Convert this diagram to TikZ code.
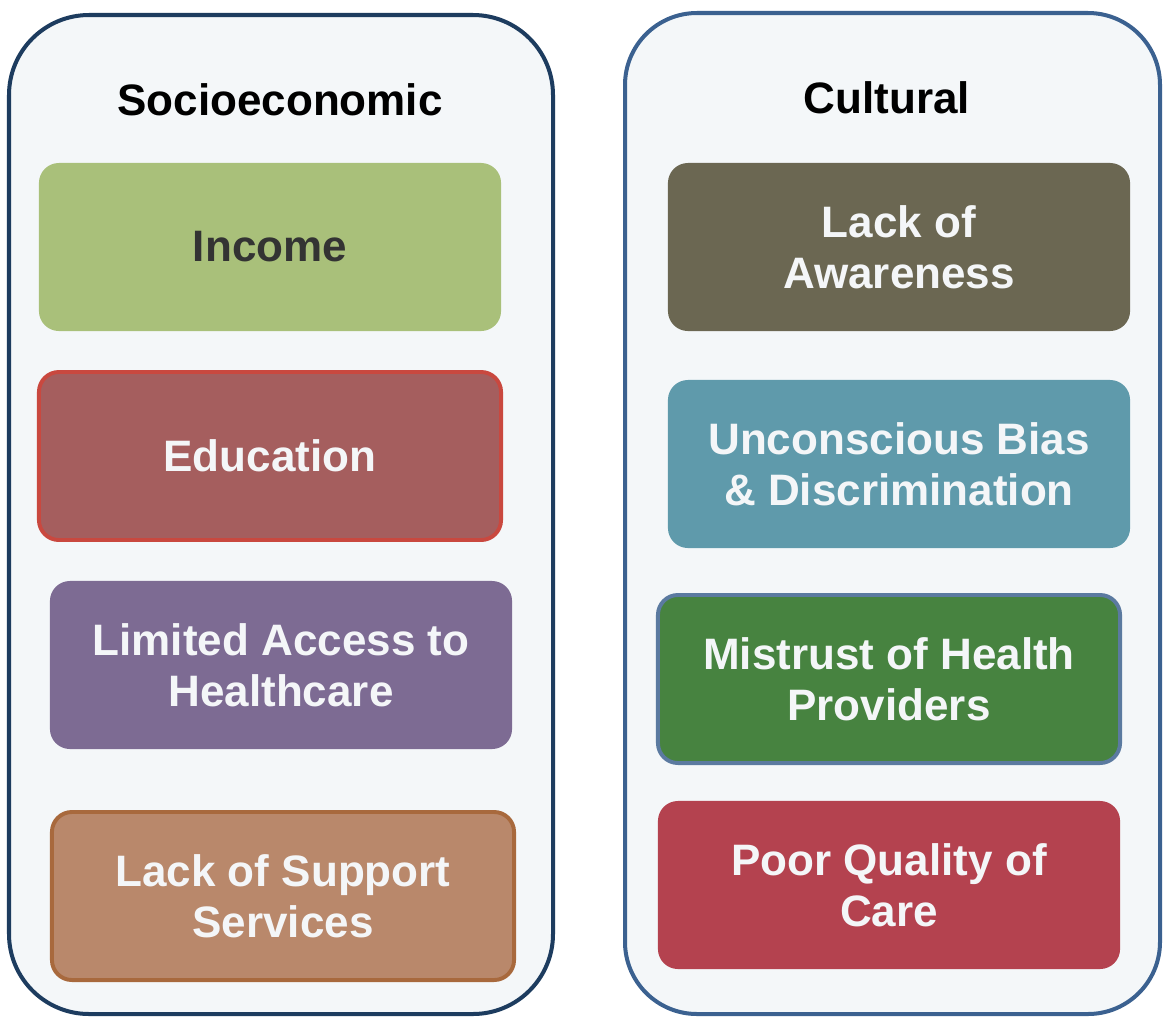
\documentclass[tikz,border=0pt]{standalone}
\usepackage{fontspec}
\setmainfont{Liberation Sans}
\usetikzlibrary{positioning}

\definecolor{panelfill}{HTML}{F4F7F9}
\definecolor{navyleft}{HTML}{1D3C5F}
\definecolor{blueright}{HTML}{3B6190}
\definecolor{incomegreen}{HTML}{A9C07A}
\definecolor{textgray}{HTML}{333333}
\definecolor{eduredfill}{HTML}{A55E5E}
\definecolor{eduredline}{HTML}{C9483F}
\definecolor{accesspurple}{HTML}{7D6B93}
\definecolor{supportfill}{HTML}{B9886B}
\definecolor{supportline}{HTML}{A8693D}
\definecolor{awareolive}{HTML}{6B6752}
\definecolor{biasteal}{HTML}{5F9AAB}
\definecolor{mistrustgreen}{HTML}{478340}
\definecolor{mistrustline}{HTML}{5B7AA0}
\definecolor{qualityred}{HTML}{B4424F}
\definecolor{offwhite}{HTML}{F4F6F8}

\tikzset{
  panel/.style={line width=2.85pt, fill=panelfill},
  factor/.style={rectangle, rounded corners=0.5cm, minimum width=11.55cm,
    minimum height=4.2cm, inner sep=0pt, align=center, text=offwhite,
    font=\fontsize{31.3}{36.3}\selectfont\bfseries},
  heading/.style={anchor=base, text=black,
    font=\fontsize{31.3}{36.3}\selectfont\bfseries}
}

\begin{document}
\begin{tikzpicture}[x=0.025cm, y=-0.025cm]
			%%%%% START %%%%%
			\useasboundingbox[fill=white] (0, 0) rectangle (1163, 1019);

			\draw[panel, draw=navyleft, rounded corners=2cm] (9, 15) rectangle (553, 1014);
			\draw[panel, draw=blueright, rounded corners=1.8cm] (625, 13) rectangle (1160, 1014);

			\node[heading] (socio) at (280, 115) {Socioeconomic};
			\node[heading] (cultural) at (887, 113) {Cultural};

			\node[factor, fill=incomegreen, text=textgray] (income) at (270, 247) {Income};
			\node[factor, fill=eduredfill, draw=eduredline, line width=2.8pt] (education) at (270, 456) {Education};
			\node[factor, fill=accesspurple] (access) at (281, 665) {Limited Access to\\Healthcare};
			\node[factor, fill=supportfill, draw=supportline, line width=2.8pt] (support) at (283, 896) {Lack of Support\\Services};

			\node[factor, fill=awareolive] (awareness) at (899, 247) {Lack of\\Awareness};
			\node[factor, fill=biasteal] (bias) at (899, 464) {Unconscious Bias\\\& Discrimination};
			\node[factor, fill=mistrustgreen, draw=mistrustline, line width=2.8pt] (mistrust) at (889, 679) {Mistrust of Health\\Providers};
			\node[factor, fill=qualityred] (quality) at (889, 885) {Poor Quality of\\Care};
			%%%%% END %%%%%
\end{tikzpicture}
\end{document}
